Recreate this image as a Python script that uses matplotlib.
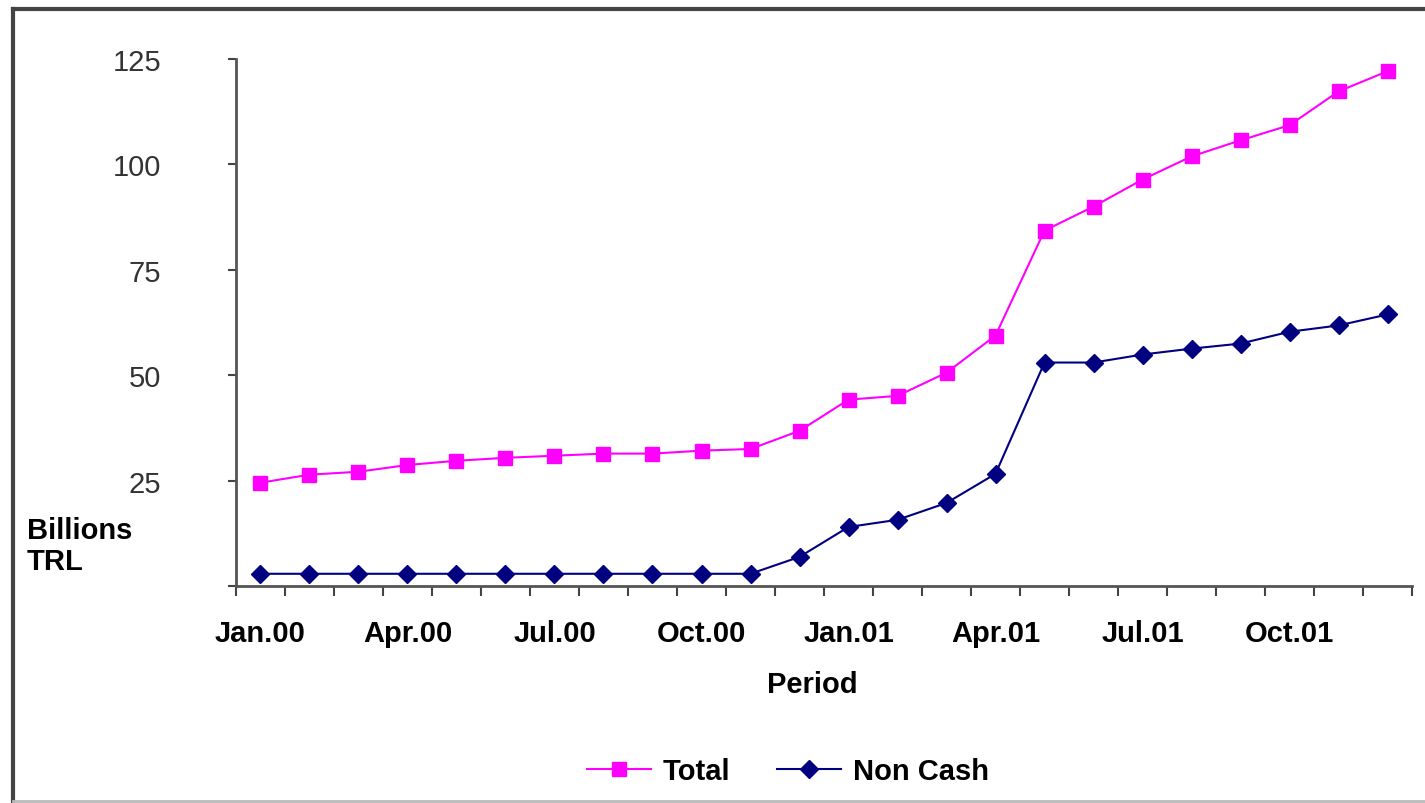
import matplotlib.pyplot as plt
from matplotlib.lines import Line2D

plt.rcParams['font.family'] = ['Liberation Sans', 'DejaVu Sans']

months = ["Jan.00", "Feb.00", "Mar.00", "Apr.00", "May.00", "Jun.00",
          "Jul.00", "Aug.00", "Sep.00", "Oct.00", "Nov.00", "Dec.00",
          "Jan.01", "Feb.01", "Mar.01", "Apr.01", "May.01", "Jun.01",
          "Jul.01", "Aug.01", "Sep.01", "Oct.01", "Nov.01", "Dec.01"]
total = [24.5, 26.4, 27.1, 28.7, 29.7, 30.4, 30.9, 31.4, 31.4, 32.1, 32.5, 36.8,
         44.2, 45.1, 50.6, 59.4, 84.3, 90.0, 96.4, 101.9, 105.7, 109.3, 117.3, 122.1]
non_cash = [2.9, 2.9, 2.9, 2.9, 2.9, 2.9, 2.9, 2.9, 2.9, 2.9, 2.9, 6.9,
            14.0, 15.7, 19.7, 26.6, 53.0, 53.0, 54.9, 56.3, 57.5, 60.3, 61.8, 64.4]
label_every = 3

fig = plt.figure(figsize=(14.25, 8.04), dpi=100)
ax = fig.add_axes([0.1656, 0.2699, 0.8253, 0.6555])

x = range(len(months))
ax.plot(x, total, color="#FF00FF", marker="s", markersize=10, linewidth=1.5, label="Total")
ax.plot(x, non_cash, color="#000080", marker="D", markersize=9, linewidth=1.5, label="Non Cash")

ax.set_xlim(-0.5, len(months) - 0.5)
ax.set_ylim(0, 125)

# ticks between categories, labels on every third month
ax.set_xticks([i - 0.5 for i in range(len(months) + 1)])
ax.set_xticklabels([])
ax.set_xticks(list(x)[::label_every], minor=True)
ax.set_xticklabels(months[::label_every], minor=True, fontsize=21, fontweight="bold")
ax.tick_params(axis="x", which="major", direction="out", length=7, width=1.5, color="#444444")
ax.tick_params(axis="x", which="minor", length=0, pad=24)

ax.set_yticks([0, 25, 50, 75, 100, 125])
ax.set_yticklabels(["", "25", "50", "75", "100", "125"], fontsize=21, color="#333333")
ax.tick_params(axis="y", direction="out", length=6, width=1.5, color="#444444", pad=48)

for s in ["top", "right"]:
    ax.spines[s].set_visible(False)
for s in ["left", "bottom"]:
    ax.spines[s].set_linewidth(2)
    ax.spines[s].set_color("#555555")

fig.text(0.570, 0.148, "Period", fontsize=21, fontweight="bold", ha="center", va="center")
fig.text(0.019, 0.320, "Billions\nTRL", fontsize=21, fontweight="bold", ha="left", va="center",
         linespacing=1.15)

fig.legend(loc="center", bbox_to_anchor=(0.553, 0.04), ncol=2, frameon=False,
           prop={"size": 21, "weight": "bold"}, handlelength=2.2, columnspacing=1.6,
           handletextpad=0.4)

# outer frame (left and top dark, bottom light)
fig.add_artist(Line2D([0.009, 0.009], [0.003, 0.988], color="#444444", linewidth=3))
fig.add_artist(Line2D([0.009, 1.0], [0.988, 0.988], color="#444444", linewidth=3))
fig.add_artist(Line2D([0.009, 1.0], [0.003, 0.003], color="#bbbbbb", linewidth=2))

fig.savefig("out.png", dpi=100)
